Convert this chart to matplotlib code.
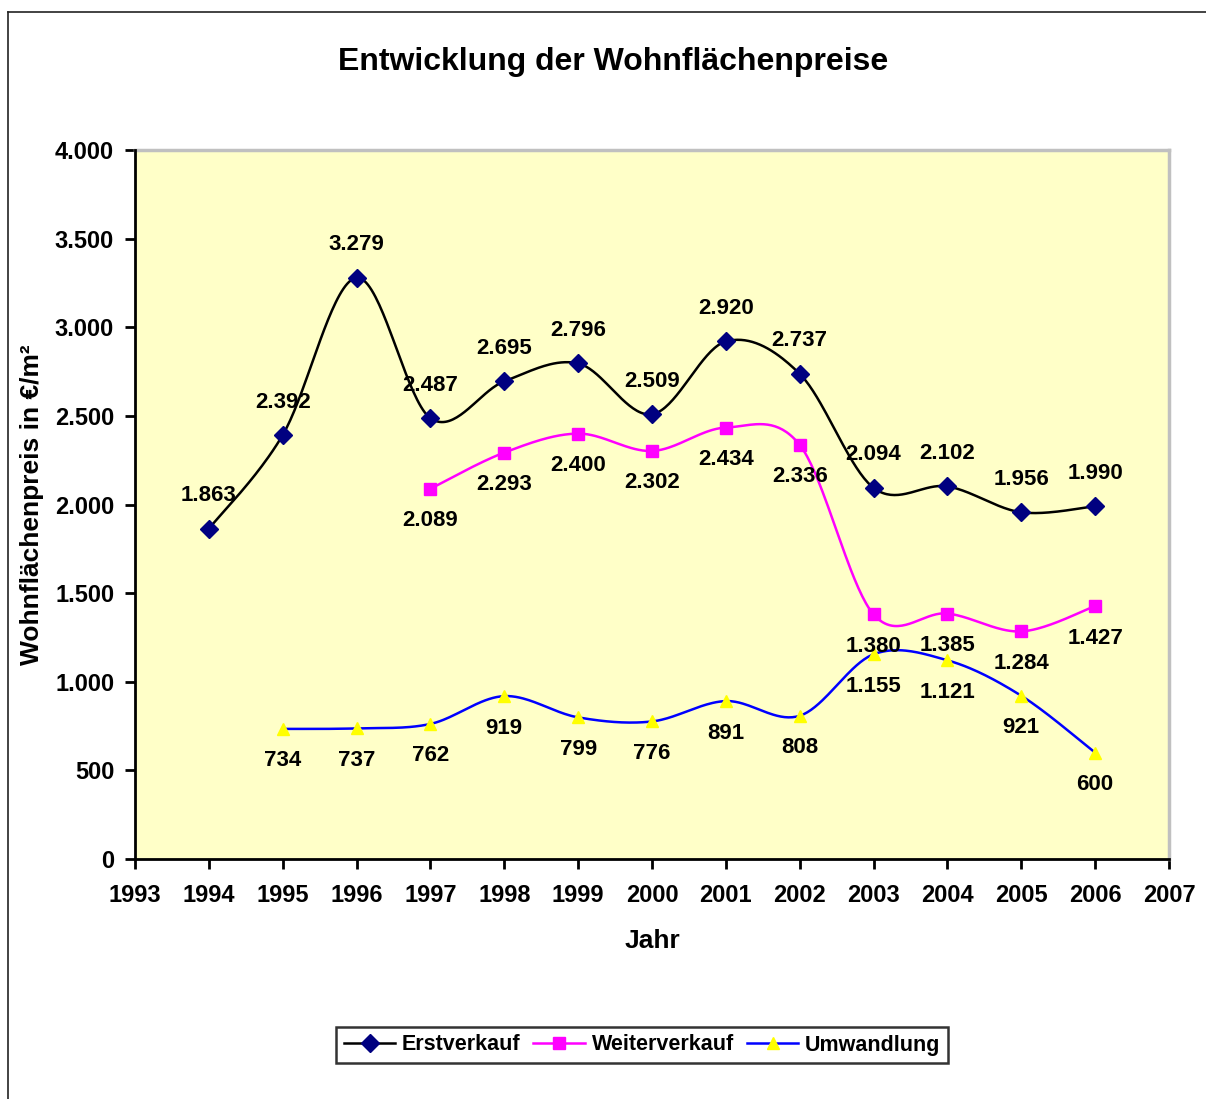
import numpy as np
import matplotlib
matplotlib.use("Agg")
import matplotlib.pyplot as plt
from matplotlib.ticker import FuncFormatter, MultipleLocator
from matplotlib.lines import Line2D

plt.rcParams['font.family'] = ['Liberation Sans', 'DejaVu Sans']
plt.rcParams['font.weight'] = 'bold'

years_erst = [1994, 1995, 1996, 1997, 1998, 1999, 2000, 2001, 2002, 2003, 2004, 2005, 2006]
erstverkauf = [1863, 2392, 3279, 2487, 2695, 2796, 2509, 2920, 2737, 2094, 2102, 1956, 1990]
years_weiter = [1997, 1998, 1999, 2000, 2001, 2002, 2003, 2004, 2005, 2006]
weiterverkauf = [2089, 2293, 2400, 2302, 2434, 2336, 1380, 1385, 1284, 1427]
years_umw = [1995, 1996, 1997, 1998, 1999, 2000, 2001, 2002, 2003, 2004, 2005, 2006]
umwandlung = [734, 737, 762, 919, 799, 776, 891, 808, 1155, 1121, 921, 600]

x_ticks = list(range(1993, 2008))
title = "Entwicklung der Wohnflächenpreise"
x_label = "Jahr"
y_label = "Wohnflächenpreis in €/m²"
series_names = ["Erstverkauf", "Weiterverkauf", "Umwandlung"]


def de_fmt(v):
    s = f"{int(round(v)):,}"
    return s.replace(",", ".")


def smooth(xs, ys, n=40):
    # Excel-like smoothed line rendering (cubic Bezier through the points)
    xs = np.asarray(xs, float)
    ys = np.asarray(ys, float)
    P = np.column_stack([xs, ys])
    out = []
    for i in range(len(P) - 1):
        p0 = P[i - 1] if i > 0 else P[i]
        p1 = P[i]
        p2 = P[i + 1]
        p3 = P[i + 2] if i + 2 < len(P) else P[i + 1]
        c1 = p1 + (p2 - p0) / 6.0
        c2 = p2 - (p3 - p1) / 6.0
        t = np.linspace(0, 1, n)[:, None]
        seg = ((1 - t) ** 3) * p1 + 3 * ((1 - t) ** 2) * t * c1 + 3 * (1 - t) * t ** 2 * c2 + t ** 3 * p2
        if i > 0:
            seg = seg[1:]
        out.append(seg)
    arr = np.vstack(out)
    return arr[:, 0], arr[:, 1]


W, H = 1206, 1099
fig = plt.figure(figsize=(W / 100, H / 100), dpi=100)
fig.patch.set_facecolor("white")

# outer chart border (extends beyond right/bottom edges)
fig.add_artist(Line2D([8 / W, 1.01], [1 - 12 / H, 1 - 12 / H], transform=fig.transFigure, color="#222222", lw=1.2))
fig.add_artist(Line2D([8 / W, 8 / W], [1 - 12 / H, -0.01], transform=fig.transFigure, color="#222222", lw=1.2))

left, right, top, bottom = 135, 1169, 150, 859
ax = fig.add_axes([left / W, 1 - bottom / H, (right - left) / W, (bottom - top) / H])
ax.set_facecolor("#FFFFC8")
ax.set_xlim(1993, 2007)
ax.set_ylim(0, 4000)

for sp in ["top", "right"]:
    ax.spines[sp].set_color("#C0C0C0")
    ax.spines[sp].set_linewidth(2.5)
for sp in ["left", "bottom"]:
    ax.spines[sp].set_color("black")
    ax.spines[sp].set_linewidth(2.0)
    ax.spines[sp].set_zorder(5)

ax.yaxis.set_major_locator(MultipleLocator(500))
ax.yaxis.set_major_formatter(FuncFormatter(lambda v, p: de_fmt(v)))
ax.set_xticks(x_ticks)
ax.set_xticklabels([str(x) for x in x_ticks])
ax.tick_params(axis="both", direction="out", length=7, width=2, labelsize=17, colors="black")
ax.tick_params(axis="x", pad=11)
ax.tick_params(axis="y", pad=8)
for lbl in ax.get_xticklabels() + ax.get_yticklabels():
    lbl.set_fontweight("bold")

# lines
xs, ys = smooth(years_erst, erstverkauf)
ax.plot(xs, ys, color="black", lw=1.8, zorder=3)
ax.plot(years_erst, erstverkauf, ls="none", marker="D", ms=9, color="#000080", mec="#000080", zorder=4)

xs, ys = smooth(years_weiter, weiterverkauf)
ax.plot(xs, ys, color="#FF00FF", lw=1.8, zorder=3)
ax.plot(years_weiter, weiterverkauf, ls="none", marker="s", ms=8, color="#FF00FF", mec="#FF00FF", zorder=4)

xs, ys = smooth(years_umw, umwandlung)
ax.plot(xs, ys, color="#0000FF", lw=1.8, zorder=3)
ax.plot(years_umw, umwandlung, ls="none", marker="^", ms=9, color="#FFFF00", mec="#FFFF00", zorder=4)

fs = 16
for x, y in zip(years_erst, erstverkauf):
    ax.annotate(de_fmt(y), (x, y), xytext=(0, 33), textcoords="offset pixels",
                ha="center", va="center", fontsize=fs, fontweight="bold", zorder=6)
for x, y in zip(years_weiter, weiterverkauf):
    ax.annotate(de_fmt(y), (x, y), xytext=(0, -32), textcoords="offset pixels",
                ha="center", va="center", fontsize=fs, fontweight="bold", zorder=6)
for x, y in zip(years_umw, umwandlung):
    ax.annotate(de_fmt(y), (x, y), xytext=(0, -32), textcoords="offset pixels",
                ha="center", va="center", fontsize=fs, fontweight="bold", zorder=6)

fig.text(613 / W, 1 - 62 / H, title, ha="center", va="center", fontsize=23, fontweight="bold")
fig.text(652 / W, 1 - 941 / H, x_label, ha="center", va="center", fontsize=19, fontweight="bold")
fig.text(32 / W, 1 - 505 / H, y_label, ha="center", va="center", rotation=90, fontsize=19, fontweight="bold")

handles = [
    Line2D([], [], color="black", lw=1.8, marker="D", ms=9, mfc="#000080", mec="#000080"),
    Line2D([], [], color="#FF00FF", lw=1.8, marker="s", ms=8, mfc="#FF00FF", mec="#FF00FF"),
    Line2D([], [], color="#0000FF", lw=1.8, marker="^", ms=9, mfc="#FFFF00", mec="#FFFF00"),
]
leg = fig.legend(handles, series_names, loc="center", bbox_to_anchor=(642 / W, 1 - 1045 / H),
                 ncol=3, frameon=True, fancybox=False, edgecolor="black", handlelength=2.4,
                 handletextpad=0.3, columnspacing=0.6, borderpad=0.35,
                 prop={"size": 15.5, "weight": "bold"})
leg.get_frame().set_linewidth(1.8)

fig.savefig("out.png", dpi=100)
